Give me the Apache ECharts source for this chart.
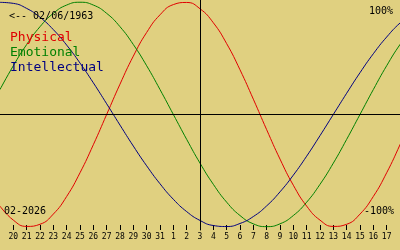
<!DOCTYPE html>
<html>
<head>
<meta charset="utf-8">
<script src="https://cdn.jsdelivr.net/npm/echarts@6/dist/echarts.min.js"></script>
<style>html,body{margin:0;padding:0;background:#e0d080;}#c{width:400px;height:250px;}</style>
</head>
<body>
<div id="c"></div>
<script>
// Day tick labels: 20 Jan .. 17 Feb 2026
const dayLabels = ['20','21','22','23','24','25','26','27','28','29','30','31','1','2','3','4','5','6','7','8','9','10','11','12','13','14','15','16','17'];
// Days relative to the marked day (3 Feb), one sample per day, 19 Jan .. 18 Feb
const dayOffsets = [-15,-14,-13,-12,-11,-10,-9,-8,-7,-6,-5,-4,-3,-2,-1,0,1,2,3,4,5,6,7,8,9,10,11,12,13,14,15,16];
const physical = [-81.7,-94.2,-99.8,-97.9,-88.8,-73.1,-52.0,-27.0,0,27.0,52.0,73.1,88.8,97.9,99.8,94.2,81.7,63.1,39.8,13.6,-13.6,-39.8,-63.1,-81.7,-94.2,-99.8,-97.9,-88.8,-73.1,-52.0,-27.0,0];
const emotional = [22.2,43.4,62.3,78.2,90.1,97.5,100,97.5,90.1,78.2,62.3,43.4,22.2,0,-22.2,-43.4,-62.3,-78.2,-90.1,-97.5,-100,-97.5,-90.1,-78.2,-62.3,-43.4,-22.2,0,22.2,43.4,62.3,78.2];
const intellectual = [99.9,99.0,94.5,86.6,75.6,61.8,45.8,28.2,9.5,-9.5,-28.2,-45.8,-61.8,-75.6,-86.6,-94.5,-99.0,-99.9,-97.2,-91.0,-81.5,-69.0,-54.1,-37.2,-18.9,0,18.9,37.2,54.1,69.0,81.5,91.0];
const seriesNames = ['Physical','Emotional','Intellectual'];
const seriesColors = ['#e00000','#008000','#000080'];
const birthText = '<-- 02/06/1963';
const monthText = '02-2026';
const topText = '100%';
const bottomText = '-100%';

const mono = 'DejaVu Sans Mono';
const chart = echarts.init(document.getElementById('c'), null, {renderer:'canvas'});
const toPairs = arr => dayOffsets.map((x,i)=>[x, arr[i]]);
const txt = (size) => ({fontSize:size, fontFamily:mono, color:'#000', fontWeight:'normal'});

chart.setOption({
  animation:false,
  backgroundColor:'#e0d080',
  title:[
    {text:birthText, left:9, top:11, padding:0, textStyle:txt(10)},
    {text:topText, right:7, top:6, padding:0, textStyle:txt(10)},
    {text:bottomText, right:6, top:206, padding:0, textStyle:txt(10)},
    {text:monthText, left:4, top:206, padding:0, textStyle:txt(10)}
  ],
  legend:{
    orient:'vertical', left:5, top:31, padding:0, itemGap:2,
    itemWidth:0, itemHeight:0, selectedMode:false,
    textStyle:{fontSize:13, fontFamily:mono},
    data: seriesNames.map((n,i)=>({name:n, icon:'rect', itemStyle:{opacity:0}, textStyle:{color:seriesColors[i], fontSize:13, fontFamily:mono}}))
  },
  grid:[
    {left:0, right:0, top:0, height:230},
    {left:13.33, right:13.33, top:220, bottom:25}
  ],
  xAxis:[
    {gridIndex:0, type:'value', min:-15, max:15,
     axisLine:{show:true, onZero:true, lineStyle:{color:'#000', width:1}},
     axisTick:{show:false}, axisLabel:{show:false}, splitLine:{show:false}, z:5},
    {gridIndex:1, type:'category', boundaryGap:false, data:dayLabels, position:'bottom',
     axisLine:{show:false},
     axisTick:{show:true, length:5, interval:0, lineStyle:{color:'#000', width:1}},
     axisLabel:{show:true, interval:0, margin:8, fontSize:8, fontFamily:mono, color:'#000'},
     splitLine:{show:false}}
  ],
  yAxis:[
    {gridIndex:0, type:'value', min:-103, max:102,
     axisLine:{show:true, onZero:true, lineStyle:{color:'#000', width:1}},
     axisTick:{show:false}, axisLabel:{show:false}, splitLine:{show:false}, z:5},
    {gridIndex:1, type:'value', show:false}
  ],
  series: [physical, emotional, intellectual].map((arr,i)=>({
    name:seriesNames[i], type:'line', xAxisIndex:0, yAxisIndex:0,
    data:toPairs(arr), smooth:true, showSymbol:false, symbol:'none',
    lineStyle:{color:seriesColors[i], width:1}, itemStyle:{color:seriesColors[i]}
  }))
});
</script>
</body>
</html>
